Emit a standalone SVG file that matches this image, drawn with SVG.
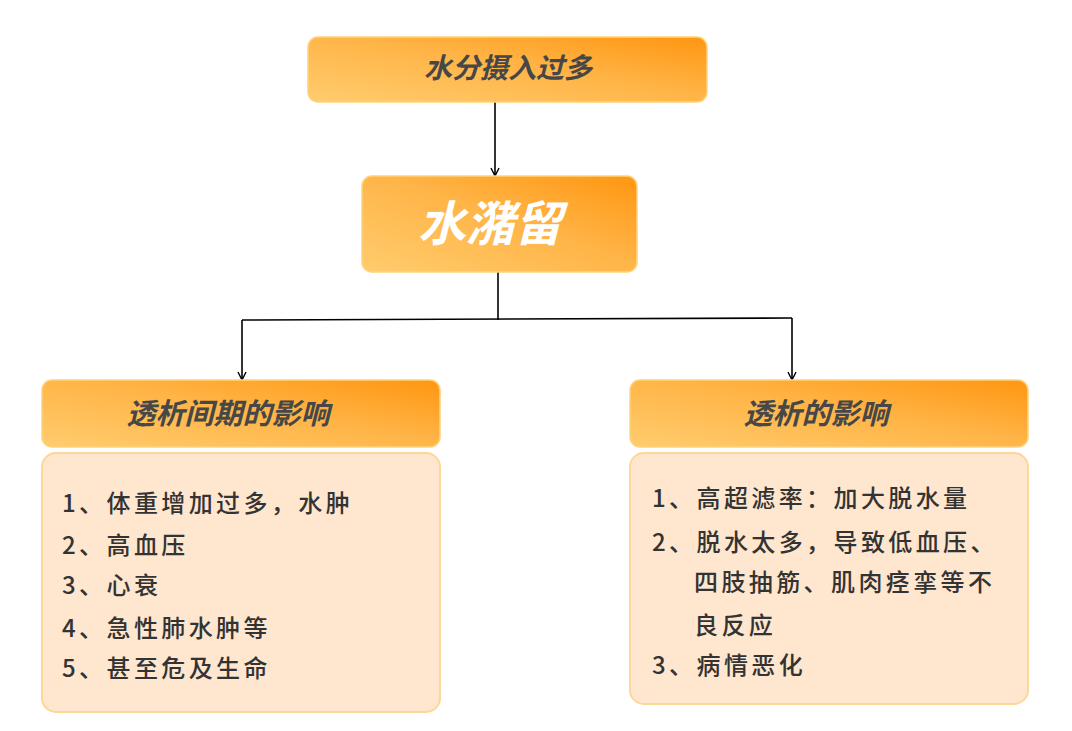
<svg xmlns="http://www.w3.org/2000/svg" width="1072" height="731" viewBox="0 0 1072 731">
<defs>
<linearGradient id="og" x1="0" y1="1" x2="1" y2="0">
<stop offset="0" stop-color="#ffcc6e"/>
<stop offset="0.55" stop-color="#ffb446"/>
<stop offset="1" stop-color="#ff9611"/>
</linearGradient>
<marker id="ah" viewBox="0 0 10 10" refX="9" refY="5" markerWidth="10" markerHeight="10" markerUnits="userSpaceOnUse" orient="auto">
<path d="M1,1 L9,5 L1,9" fill="none" stroke="#000" stroke-width="1.4"/>
</marker>
</defs>
<style>
.hdr{fill:url(#og);stroke:#ffd27a;stroke-width:1.5}
.body{fill:#fee6cf;stroke:#fdd79a;stroke-width:2}
.ht{font-family:"Noto Sans CJK SC",sans-serif;font-weight:bold;font-style:italic;fill:#474747;text-anchor:middle}
.bt{font-family:"Noto Sans CJK SC",sans-serif;font-size:24px;font-weight:500;fill:#333;letter-spacing:3.4px}
.cn{fill:none;stroke:#000;stroke-width:1.6}
</style>
<rect width="1072" height="731" fill="#fff"/>
<g id="connectors">
<line class="cn" x1="495" y1="102" x2="495" y2="176" marker-end="url(#ah)"/>
<line class="cn" x1="498" y1="272" x2="498" y2="320"/>
<line class="cn" x1="242" y1="320" x2="792" y2="318"/>
<line class="cn" x1="242" y1="320" x2="242" y2="380" marker-end="url(#ah)"/>
<line class="cn" x1="792" y1="318" x2="792" y2="380" marker-end="url(#ah)"/>
</g>
<g id="n1">
<rect class="hdr" x="308" y="37" width="399" height="65" rx="10"/>
<text class="ht" x="508" y="78" font-size="28">水分摄入过多</text>
</g>
<g id="n2">
<rect class="hdr" x="362" y="176" width="275" height="96" rx="10"/>
<text x="490" y="241" font-family="&quot;Noto Sans CJK SC&quot;,sans-serif" font-size="48" font-weight="bold" font-style="italic" fill="#fff" text-anchor="middle">水潴留</text>
</g>
<g id="n3">
<rect class="hdr" x="42" y="380" width="398" height="67" rx="10"/>
<text class="ht" x="228" y="424" font-size="29">透析间期的影响</text>
</g>
<g id="n4">
<rect class="body" x="42" y="453" width="398" height="259" rx="14"/>
<text class="bt" x="62" y="512">1、体重增加过多，水肿</text>
<text class="bt" x="62" y="554">2、高血压</text>
<text class="bt" x="62" y="594">3、心衰</text>
<text class="bt" x="62" y="637">4、急性肺水肿等</text>
<text class="bt" x="62" y="677">5、甚至危及生命</text>
</g>
<g id="n5">
<rect class="hdr" x="630" y="380" width="398" height="67" rx="10"/>
<text class="ht" x="816" y="424" font-size="29">透析的影响</text>
</g>
<g id="n6">
<rect class="body" x="630" y="453" width="398" height="251" rx="14"/>
<text class="bt" x="652" y="507">1、高超滤率：加大脱水量</text>
<text class="bt" x="652" y="551">2、脱水太多，导致低血压、</text>
<text class="bt" x="694" y="591">四肢抽筋、肌肉痉挛等不</text>
<text class="bt" x="694" y="634">良反应</text>
<text class="bt" x="652" y="674">3、病情恶化</text>
</g>
</svg>
